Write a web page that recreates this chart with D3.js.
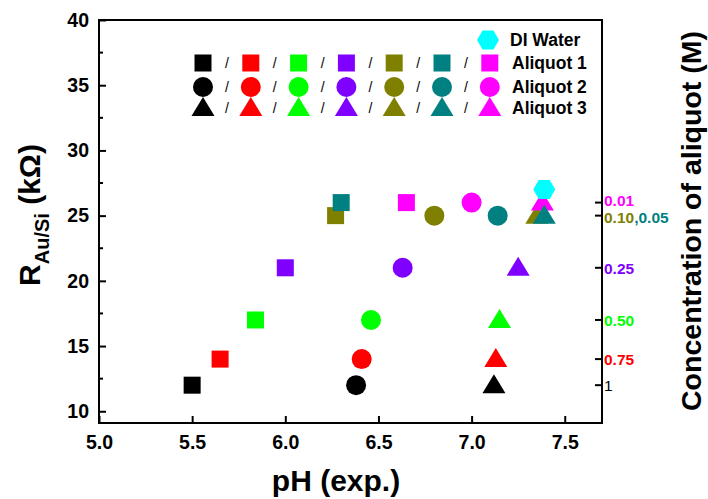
<!DOCTYPE html>
<html>
<head>
    <title>R Au/Si vs pH</title>
    <script src="https://d3js.org/d3.v7.min.js"></script>
    <style>
        body { margin: 0; background: #fff; }
        svg { font-family: "Liberation Sans", Arial, sans-serif; font-weight: bold; }
        .axis path, .axis line { stroke: #000; stroke-width: 2; fill: none; }
        .axis text { font-size: 19.5px; font-weight: bold; fill: #000; }
    </style>
</head>
<body>
    <svg width="708" height="499"></svg>
    <script>
        // series colours in legend order (one per aliquot concentration)
        const colors = ["#000000", "#ff0000", "#00ff00", "#8000ff", "#808000", "#008080", "#ff00ff"];
        const concentrations = ["1", "0.75", "0.50", "0.25", "0.10", "0.05", "0.01"];

        // Aliquot 1 (squares), Aliquot 2 (circles), Aliquot 3 (triangles)
        const squarePH = [5.50, 5.65, 5.84, 6.00, 6.27, 6.30, 6.65];
        const squareR  = [12, 14, 17, 21, 25, 26, 26];
        const circlePH = [6.38, 6.41, 6.46, 6.63, 6.80, 7.14, 7.00];
        const circleR  = [12, 14, 17, 21, 25, 25, 26];
        const trianglePH = [7.12, 7.13, 7.15, 7.25, 7.35, 7.39, 7.38];
        const triangleR  = [12, 14, 17, 21, 25, 25, 26];

        // DI water
        const waterPH = [7.39];
        const waterR = [27];

        // axis ticks
        const xTicks = [5.0, 5.5, 6.0, 6.5, 7.0, 7.5];
        const yTicks = [10, 15, 20, 25, 30, 35, 40];
        const yMinor = [12.5, 17.5, 22.5, 27.5, 32.5, 37.5];
        const rightTicks = [26, 25, 21, 17, 14, 12];

        const svg = d3.select("svg");
        const x = d3.scaleLinear().domain([5, 7.7]).range([99, 602]);
        const y = d3.scaleLinear().domain([9.1, 40]).range([423, 20]);

        // frame
        svg.append("rect")
            .attr("x", x(5)).attr("y", y(40))
            .attr("width", x(7.7) - x(5)).attr("height", y(9.1) - y(40))
            .attr("fill", "none").attr("stroke", "#000").attr("stroke-width", 2);

        // bottom axis
        const gx = svg.append("g").attr("class", "axis")
            .attr("transform", `translate(0,${y(9.1)})`)
            .call(d3.axisBottom(x).tickValues(xTicks).tickFormat(d3.format(".1f"))
                .tickSizeInner(-7).tickSizeOuter(0).tickPadding(12));
        gx.select(".domain").remove();

        // left axis
        const gy = svg.append("g").attr("class", "axis")
            .attr("transform", `translate(${x(5)},0)`)
            .call(d3.axisLeft(y).tickValues(yTicks).tickSizeInner(-7).tickSizeOuter(0).tickPadding(10));
        gy.select(".domain").remove();
        svg.append("g").attr("class", "axis")
            .selectAll("line").data(yMinor).enter().append("line")
            .attr("x1", x(5)).attr("x2", x(5) + 4)
            .attr("y1", d => y(d)).attr("y2", d => y(d));

        // right axis ticks (concentration)
        svg.append("g").attr("class", "axis")
            .selectAll("line").data(rightTicks).enter().append("line")
            .attr("x1", x(7.7) - 7).attr("x2", x(7.7))
            .attr("y1", d => y(d)).attr("y2", d => y(d));

        const rightLabels = [
            { v: 26, parts: [6], dy: 3 },
            { v: 25, parts: [4, 5], dy: 7 },
            { v: 21, parts: [3], dy: 6 },
            { v: 17, parts: [2], dy: 6 },
            { v: 14, parts: [1], dy: 6 },
            { v: 12, parts: [0], dy: 6 }
        ];
        rightLabels.forEach(l => {
            const t = svg.append("text")
                .attr("x", x(7.7) + 2)
                .attr("y", y(l.v) + l.dy)
                .attr("font-size", 15.5);
            l.parts.forEach((k, j) => {
                t.append("tspan").attr("fill", colors[k]).text((j ? "," : "") + concentrations[k]);
            });
            if (l.v === 12) t.attr("font-weight", "normal");
        });

        // marker shapes
        const sq = 17;
        function square(g, cx, cy, c) {
            g.append("rect").attr("x", cx - sq / 2).attr("y", cy - sq / 2)
                .attr("width", sq).attr("height", sq).attr("fill", c);
        }
        function circle(g, cx, cy, c) {
            g.append("circle").attr("cx", cx).attr("cy", cy).attr("r", 10).attr("fill", c);
        }
        function triangle(g, cx, cy, c) {
            g.append("path")
                .attr("d", `M${cx},${cy - 11}L${cx + 11.5},${cy + 8}L${cx - 11.5},${cy + 8}Z`)
                .attr("fill", c);
        }
        function hexagon(g, cx, cy, c) {
            const r = 11;
            const pts = d3.range(6).map(k => {
                const a = Math.PI / 3 * k;
                return [cx + r * Math.cos(a), cy + r * Math.sin(a)];
            });
            g.append("path").attr("d", "M" + pts.join("L") + "Z").attr("fill", c);
        }

        // data markers (magenta drawn under teal)
        const drawOrder = [0, 1, 2, 3, 4, 6, 5];
        const marks = svg.append("g");
        drawOrder.forEach(i => {
            const c = colors[i];
            square(marks, x(squarePH[i]), y(squareR[i]), c);
            circle(marks, x(circlePH[i]), y(circleR[i]), c);
            triangle(marks, x(trianglePH[i]), y(triangleR[i]), c);
        });
        waterPH.forEach((p, i) => hexagon(marks, x(p), y(waterR[i]), "#00ffff"));

        // legend
        const leg = svg.append("g");
        const legX0 = 203, legDX = 47.8;
        const rowY = [63, 87, 108];
        const rowShapes = [square, circle, triangle];
        const rowNames = ["Aliquot 1", "Aliquot 2", "Aliquot 3"];
        hexagon(leg, 488, 40, "#00ffff");
        leg.append("text").attr("x", 510).attr("y", 46).attr("font-size", 17.5).text("DI Water");
        rowY.forEach((ry, r) => {
            colors.forEach((c, i) => {
                rowShapes[r](leg, legX0 + i * legDX, ry, c);
                if (i < colors.length - 1) {
                    leg.append("text").attr("x", legX0 + i * legDX + 24).attr("y", ry + 5)
                        .attr("font-size", 14).attr("font-weight", "normal")
                        .attr("text-anchor", "middle").text("/");
                }
            });
            leg.append("text").attr("x", 512).attr("y", ry + 6).attr("font-size", 17.5).text(rowNames[r]);
        });

        // axis titles
        svg.append("text").attr("x", 336).attr("y", 491).attr("text-anchor", "middle")
            .attr("font-size", 30).text("pH (exp.)");

        const yt = svg.append("text")
            .attr("transform", "translate(40,215) rotate(-90)")
            .attr("text-anchor", "middle").attr("font-size", 30);
        yt.append("tspan").text("R");
        yt.append("tspan").attr("font-size", 20).attr("dy", 9).text("Au/Si");
        yt.append("tspan").attr("dy", -9).text(" (kΩ)");

        svg.append("text")
            .attr("transform", "translate(701,221) rotate(-90)")
            .attr("text-anchor", "middle").attr("font-size", 28.5)
            .text("Concentration of aliquot (M)");
    </script>
</body>
</html>
